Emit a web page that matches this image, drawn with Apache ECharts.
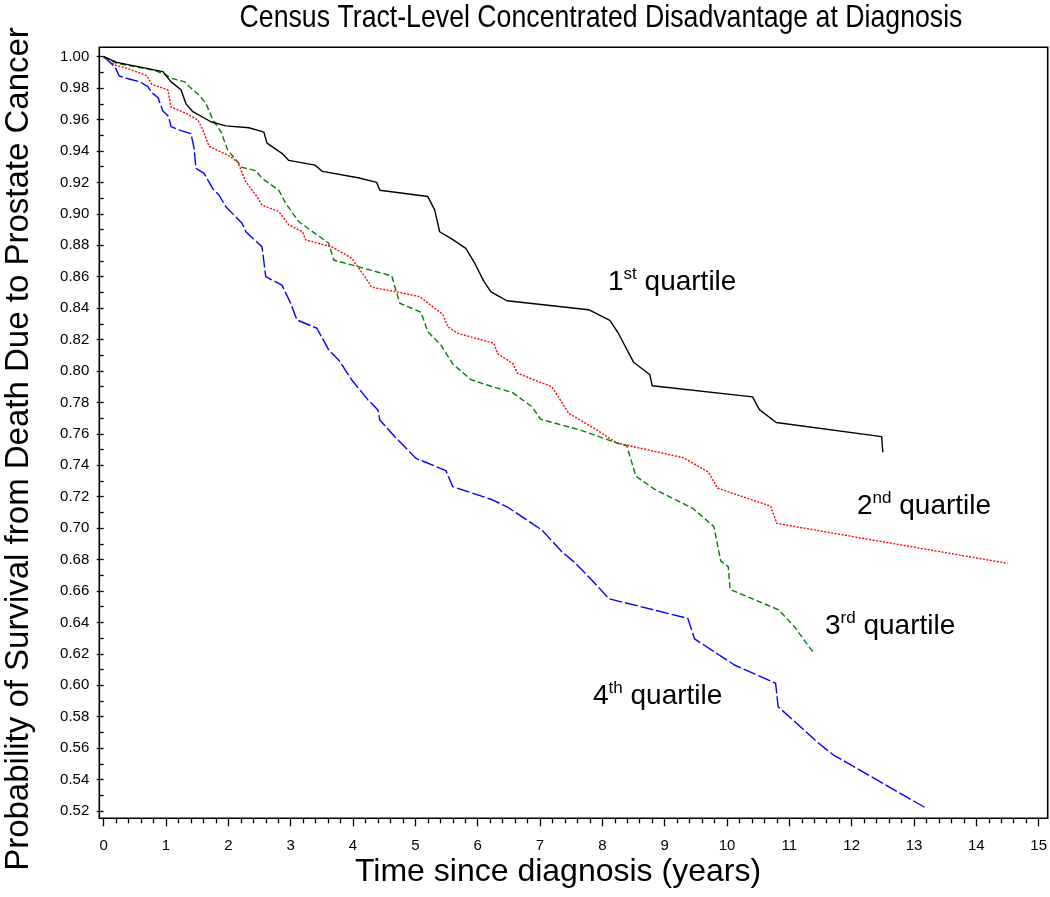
<!DOCTYPE html>
<html>
<head>
<meta charset="utf-8">
<script src="https://cdn.jsdelivr.net/npm/echarts@6/dist/echarts.min.js"></script>
<style>html,body{margin:0;padding:0;background:#fff}#c{width:1050px;height:897px}</style>
</head>
<body>
<div id="c"></div>
<script>
// ---- data ----
const xTicks = [0,1,2,3,4,5,6,7,8,9,10,11,12,13,14,15];
const yTicks = [0.52,0.54,0.56,0.58,0.60,0.62,0.64,0.66,0.68,0.70,0.72,0.74,0.76,0.78,0.80,0.82,0.84,0.86,0.88,0.90,0.92,0.94,0.96,0.98,1.00];

const q1Time = [0,0.21,0.95,1.08,1.24,1.32,1.43,1.72,1.96,2.33,2.57,2.62,2.86,2.97,3.39,3.51,4.08,4.38,4.43,5.20,5.31,5.39,5.57,5.81,5.94,6.10,6.21,6.32,6.47,7.78,8.12,8.25,8.50,8.76,8.80,10.41,10.52,10.79,12.48,12.50];
const q1Surv = [1.000,0.9964,0.9905,0.984,0.979,0.970,0.965,0.9586,0.956,0.9548,0.952,0.945,0.9385,0.934,0.931,0.927,0.923,0.920,0.915,0.911,0.9025,0.8886,0.8844,0.878,0.8695,0.857,0.8505,0.848,0.8447,0.8390,0.8322,0.8245,0.8056,0.7978,0.7906,0.7835,0.7754,0.7672,0.7582,0.7483];

const q2Time = [0,0.10,0.18,0.37,0.69,0.77,1.03,1.08,1.32,1.51,1.59,1.69,1.99,2.15,2.28,2.46,2.54,2.81,2.97,3.19,3.24,3.66,3.98,4.19,4.30,4.72,5.07,5.44,5.52,5.68,6.26,6.32,6.56,6.64,7.19,7.46,7.91,8.23,9.30,9.70,9.85,10.70,10.80,14.50];
const q2Surv = [1.000,0.9968,0.9947,0.9926,0.9880,0.9825,0.9788,0.968,0.964,0.9597,0.9534,0.9430,0.9374,0.933,0.9205,0.911,0.9056,0.9014,0.893,0.8886,0.8834,0.879,0.8717,0.860,0.8533,0.8502,0.8473,0.8360,0.8282,0.824,0.8176,0.811,0.8049,0.7985,0.790,0.7731,0.7625,0.7542,0.7448,0.7357,0.7254,0.714,0.703,0.6776];

const q3Time = [0,0.21,0.79,0.98,1.08,1.30,1.40,1.53,1.64,1.75,1.88,1.99,2.22,2.44,2.54,2.81,2.92,3.13,3.39,3.61,3.69,4.08,4.62,4.75,5.09,5.20,5.41,5.60,5.89,6.10,6.56,6.87,7.01,7.64,8.23,8.39,8.54,8.84,9.45,9.79,9.90,10.02,10.05,10.83,11.09,11.39];
const q3Surv = [1.000,0.9958,0.9915,0.989,0.9863,0.984,0.980,0.9756,0.9703,0.960,0.9523,0.9406,0.9296,0.9275,0.9226,0.915,0.9067,0.895,0.8876,0.8813,0.8706,0.8664,0.8605,0.8431,0.8374,0.825,0.8165,0.8045,0.7945,0.7917,0.7862,0.7773,0.7693,0.7625,0.7542,0.7525,0.7330,0.7247,0.7126,0.701,0.6790,0.6755,0.661,0.648,0.6368,0.6205];

const q4Time = [0,0.18,0.25,0.39,0.58,0.71,0.77,0.87,0.95,1.04,1.08,1.24,1.40,1.45,1.48,1.61,1.75,1.85,1.96,2.22,2.28,2.54,2.60,2.86,3.00,3.10,3.42,3.61,3.77,3.98,4.24,4.40,4.43,4.67,5.01,5.49,5.60,6.21,6.47,7.03,7.35,7.54,7.83,8.11,9.37,9.48,10.12,10.78,10.82,11.47,11.71,13.20];
const q4Surv = [1.000,0.9936,0.9877,0.9860,0.984,0.981,0.9772,0.974,0.9655,0.962,0.9555,0.953,0.951,0.9417,0.929,0.9258,0.916,0.912,0.9045,0.894,0.8886,0.879,0.860,0.8547,0.843,0.8325,0.8272,0.8134,0.807,0.7943,0.7816,0.7752,0.7688,0.7582,0.7444,0.7366,0.7264,0.7184,0.7136,0.6988,0.685,0.6787,0.667,0.6550,0.6426,0.6295,0.6129,0.6013,0.5864,0.5631,0.5556,0.5217];

const titleText = 'Census Tract-Level Concentrated Disadvantage at Diagnosis';
const xTitle = 'Time since diagnosis (years)';
const yTitle = 'Probability of Survival from Death Due to Prostate Cancer';
const quartileLabels = [['1','st'],['2','nd'],['3','rd'],['4','th']];

// ---- chart ----
const zip = (a,b) => a.map((v,i)=>[v,b[i]]);
const FONT = 'Liberation Sans, Arial, sans-serif';
const chart = echarts.init(document.getElementById('c'), null, {renderer:'canvas'});

const GL = 103.7, GR = 1045, GT = 56.7, GB = 811;

function qLabel(idx, x, y){
  const q = quartileLabels[idx];
  return {
    type:'text', x:x, y:y,
    style:{
      text:'{a|'+q[0]+'}{s|'+q[1]+'}{a| quartile}',
      verticalAlign:'bottom',
      rich:{
        a:{fontSize:28, fontFamily:FONT, fill:'#000', color:'#000', lineHeight:30, verticalAlign:'bottom'},
        s:{fontSize:17, fontFamily:FONT, fill:'#000', color:'#000', lineHeight:30, verticalAlign:'top', padding:[0,0,12,0]}
      }
    }
  };
}

const option = {
  animation:false,
  backgroundColor:'#fff',
  grid:{left:GL, right:1050-GR, top:GT, bottom:897-GB, containLabel:false},
  xAxis:{
    type:'value', min:0, max:15, interval:1, offset:7.3,
    axisLine:{show:false},
    axisTick:{show:true, length:8, lineStyle:{color:'#000', width:1.3}},
    minorTick:{show:true, splitNumber:5, length:5, lineStyle:{color:'#000', width:1.3}},
    splitLine:{show:false}, minorSplitLine:{show:false},
    axisLabel:{color:'#000', fontSize:15, fontFamily:FONT, margin:20,
      formatter:v=>String(xTicks[Math.round(v)])}
  },
  yAxis:{
    type:'value', min:0.52, max:1.00, interval:0.02, offset:4.4,
    axisLine:{show:false},
    axisTick:{show:true, length:7, lineStyle:{color:'#000', width:1.3}},
    minorTick:{show:true, splitNumber:2, length:4, lineStyle:{color:'#000', width:1.3}},
    splitLine:{show:false}, minorSplitLine:{show:false},
    axisLabel:{color:'#000', fontSize:15, fontFamily:FONT, margin:10,
      formatter:v=>{const i=Math.round((v-0.52)/0.02); return yTicks[i].toFixed(2);}}
  },
  series:[
    {name:'1st quartile', type:'line', data:zip(q1Time,q1Surv), showSymbol:false, symbol:'none',
      lineStyle:{color:'#000000', width:1.4, type:'solid'}, z:4},
    {name:'2nd quartile', type:'line', data:zip(q2Time,q2Surv), showSymbol:false, symbol:'none',
      lineStyle:{color:'#ff0000', width:1.4, type:[2,1.5]}, z:3},
    {name:'3rd quartile', type:'line', data:zip(q3Time,q3Surv), showSymbol:false, symbol:'none',
      lineStyle:{color:'#007f00', width:1.4, type:[6,3]}, z:2},
    {name:'4th quartile', type:'line', data:zip(q4Time,q4Surv), showSymbol:false, symbol:'none',
      lineStyle:{color:'#0000ff', width:1.4, type:[13,3]}, z:1}
  ],
  graphic:[
    {type:'rect', shape:{x:99.3, y:47.3, width:1047.7-99.3, height:818.3-47.3},
      style:{fill:'none', stroke:'#000', lineWidth:1.6}, z:10, silent:true},
    {type:'text', x:601, y:18, scaleX:0.834, originX:0, originY:0,
      style:{x:0, y:0, text:titleText, font:'32px '+FONT, fill:'#000', align:'center', verticalAlign:'middle'}},
    {type:'text', x:558, y:872,
      style:{x:0, y:0, text:xTitle, font:'32px '+FONT, fill:'#000', align:'center', verticalAlign:'middle'}},
    {type:'text', x:19, y:449, rotation:Math.PI/2,
      style:{x:0, y:0, text:yTitle, font:'33px '+FONT, fill:'#000', align:'center', verticalAlign:'middle'}},
    qLabel(0, 608, 296),
    qLabel(1, 857, 520),
    qLabel(2, 825, 640),
    qLabel(3, 593, 710)
  ]
};
chart.setOption(option);
</script>
</body>
</html>
